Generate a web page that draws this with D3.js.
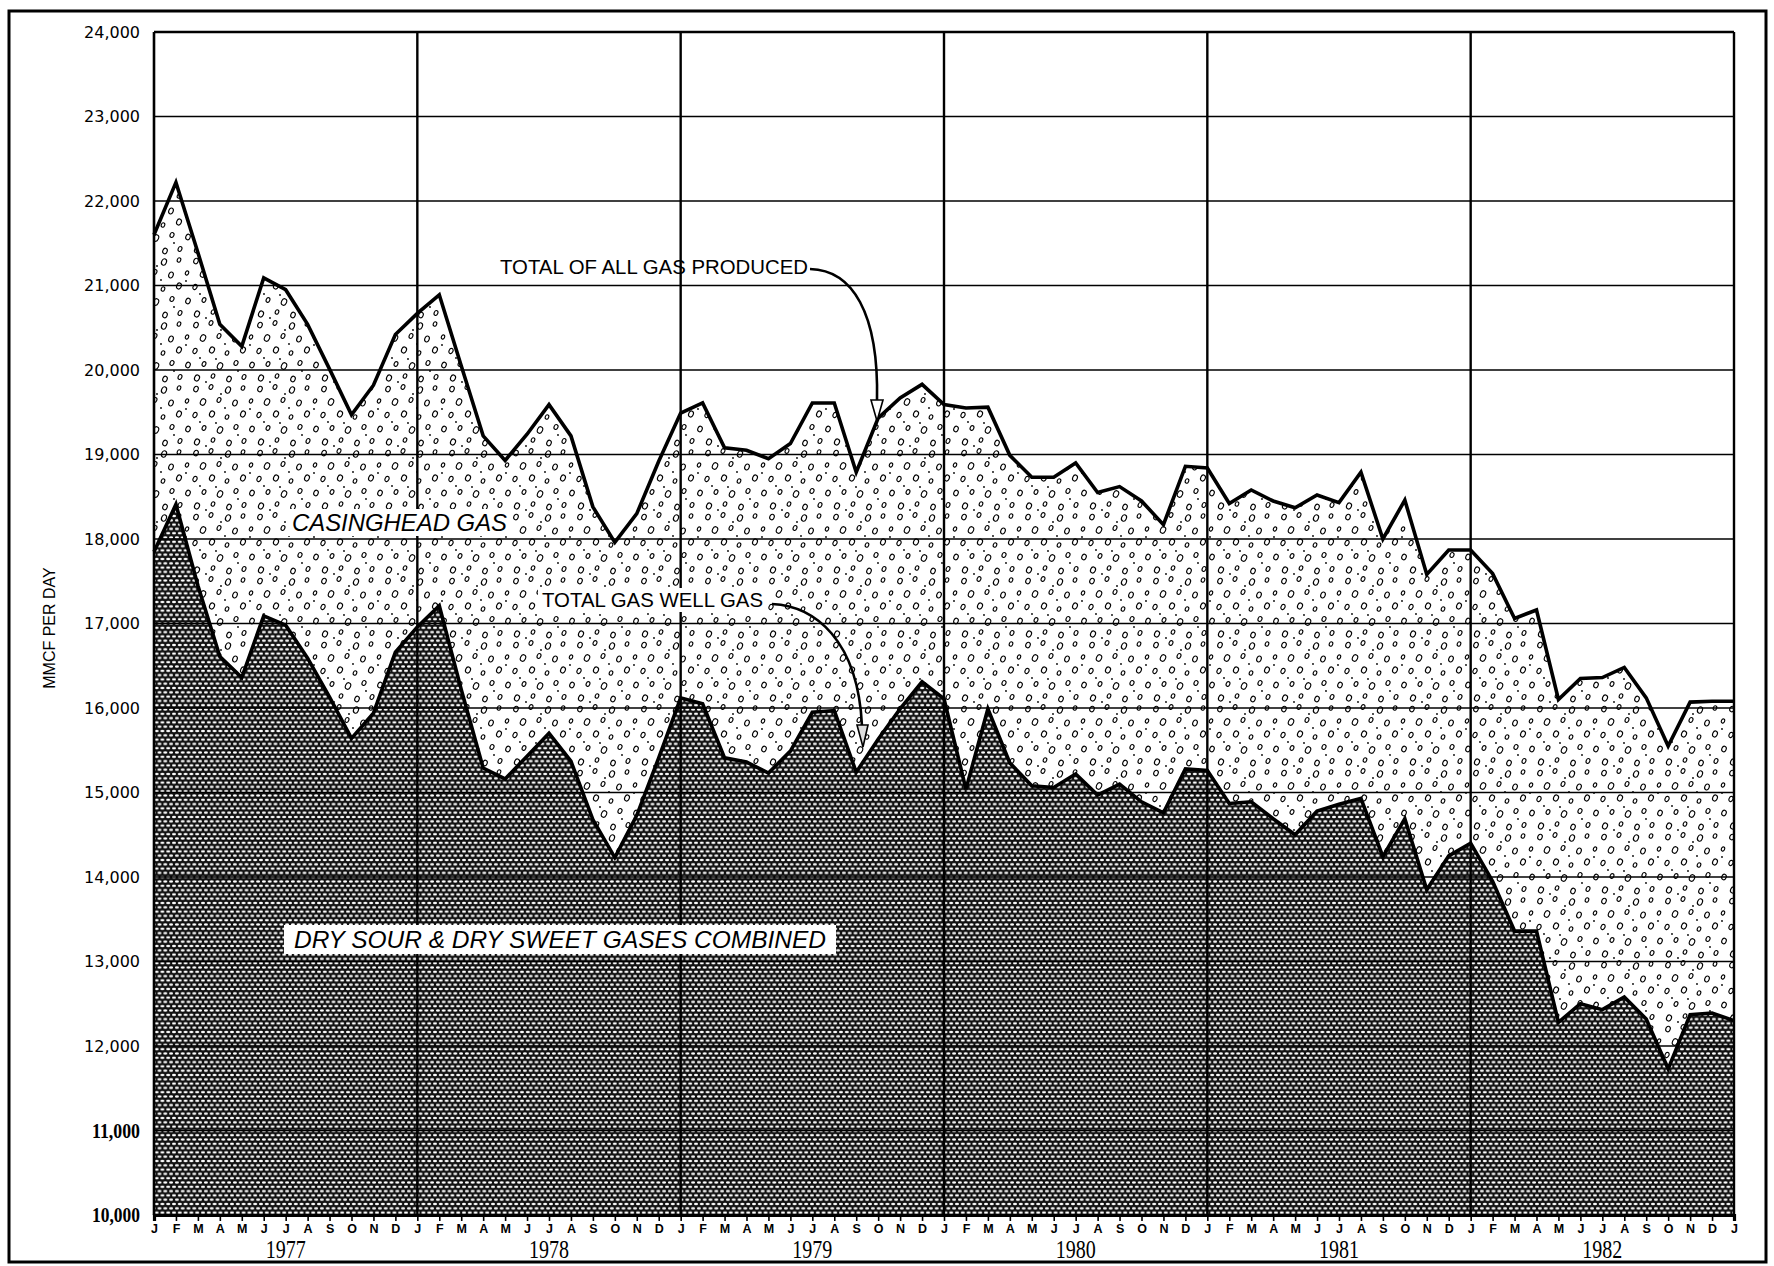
<!DOCTYPE html>
<html><head><meta charset="utf-8">
<script src="https://cdn.jsdelivr.net/npm/d3@7/dist/d3.min.js"></script>
<style>body{margin:0;background:#fff}svg{display:block}</style>
</head><body>
<script>
// ---- data (MMCF per day, monthly Jan 1977 .. Jan 1983) ----
const monthLabels = ["J","F","M","A","M","J","J","A","S","O","N","D"];
const years = [1977, 1978, 1979, 1980, 1981, 1982];
const yTickValues = [10000,11000,12000,13000,14000,15000,16000,17000,18000,19000,20000,21000,22000,23000,24000];

const totalGas = [
 21600, 22220, 21390, 20540, 20280, 21090, 20950, 20540, 20010, 19470, 19820, 20420,
 20670, 20890, 20050, 19220, 18930, 19240, 19590, 19220, 18380, 17960, 18300, 18920,
 19490, 19610, 19080, 19050, 18950, 19130, 19610, 19610, 18790, 19430, 19670, 19830,
 19590, 19550, 19560, 18990, 18730, 18730, 18900, 18550, 18620, 18450, 18170, 18860,
 18840, 18420, 18580, 18450, 18370, 18520, 18430, 18790, 18000, 18460, 17580, 17870,
 17870, 17590, 17060, 17160, 16100, 16350, 16360, 16480, 16120, 15550, 16070, 16080,
 16080];

const gasWellGas = [
 17850, 18410, 17450, 16610, 16360, 17090, 16980, 16590, 16130, 15640, 15940, 16660,
 16960, 17210, 16220, 15290, 15160, 15430, 15700, 15370, 14680, 14230, 14730, 15410,
 16120, 16050, 15410, 15360, 15230, 15490, 15950, 15970, 15240, 15630, 15990, 16310,
 16110, 15040, 15990, 15350, 15080, 15060, 15220, 14970, 15100, 14890, 14760, 15280,
 15260, 14870, 14890, 14690, 14500, 14780, 14860, 14930, 14240, 14690, 13850, 14250,
 14400, 13950, 13360, 13360, 12280, 12500, 12430, 12580, 12320, 11730, 12370, 12390,
 12300];

// ---- layout ----
const W = 1774, H = 1266;
const plot = {left: 154, right: 1734, top: 32, bottom: 1215};

const svg = d3.select("body").append("svg").attr("width", W).attr("height", H);

const x = d3.scaleLinear().domain([0, 72]).range([plot.left, plot.right]);
const y = d3.scaleLinear().domain([10000, 24000]).range([plot.bottom, plot.top]);

// ---- patterns ----
const defs = svg.append("defs");
const hw = 5.8, hh = 8.6;
const hatch = defs.append("pattern").attr("id", "hatch")
  .attr("patternUnits", "userSpaceOnUse").attr("width", hw).attr("height", hh);
hatch.append("rect").attr("width", hw).attr("height", hh).attr("fill", "#111");
[[0,0],[hw,0],[0,hh],[hw,hh],[hw/2,hh/2]].forEach(([cx,cy]) => {
  hatch.append("ellipse").attr("cx", cx).attr("cy", cy).attr("rx", 2.0).attr("ry", 1.15).attr("fill", "#fff");
});

const stip = defs.append("pattern").attr("id", "stipple")
  .attr("patternUnits", "userSpaceOnUse").attr("width", 64).attr("height", 64);
stip.append("rect").attr("width", 64).attr("height", 64).attr("fill", "#fff");
const ovals = [
 [4,5,1.8,2.4],[19,3,1.5,2.0],[36,6,2.0,2.7],[51,4,1.4,1.9],
 [11,18,2.1,2.8],[27,16,1.5,2.1],[43,19,1.8,2.5],[59,17,1.3,1.8],
 [3,31,1.6,2.2],[20,30,2.0,2.6],[35,33,1.4,1.9],[51,30,1.9,2.6],
 [12,44,1.5,2.0],[28,46,2.1,2.8],[44,43,1.6,2.1],[60,45,1.8,2.4],
 [5,58,2.0,2.6],[21,56,1.4,1.9],[37,59,1.8,2.4],[52,57,1.5,2.1]
];
ovals.forEach(([cx,cy,rx,ry]) => {
  stip.append("ellipse").attr("cx", cx).attr("cy", cy).attr("rx", rx * 1.2).attr("ry", ry * 1.2)
    .attr("transform", `rotate(25 ${cx} ${cy})`)
    .attr("fill", "none").attr("stroke", "#000").attr("stroke-width", 1.1);
});
[[29,10],[8,38],[46,51],[58,25],[14,62],[33,24],[24,39]].forEach(([cx,cy]) => {
  stip.append("circle").attr("cx", cx).attr("cy", cy).attr("r", 0.9).attr("fill", "#000");
});

// ---- outer frame ----
svg.append("rect").attr("x", 9).attr("y", 11).attr("width", 1757).attr("height", 1251)
  .attr("fill", "none").attr("stroke", "#000").attr("stroke-width", 3);

// ---- areas ----
const idx = d3.range(totalGas.length);
const areaWell = d3.area().x(i => x(i)).y0(y(10000)).y1(i => y(gasWellGas[i]));
const areaCasing = d3.area().x(i => x(i)).y0(i => y(gasWellGas[i])).y1(i => y(totalGas[i]));
svg.append("path").datum(idx).attr("d", areaCasing).attr("fill", "url(#stipple)");
svg.append("path").datum(idx).attr("d", areaWell).attr("fill", "url(#hatch)");

// ---- grid ----
const grid = svg.append("g");
grid.selectAll("line.h").data(yTickValues.slice(1, -1)).enter().append("line")
  .attr("x1", plot.left).attr("x2", plot.right)
  .attr("y1", d => y(d)).attr("y2", d => y(d))
  .attr("stroke", "#000").attr("stroke-width", 1.6);
grid.selectAll("line.v").data(years.slice(1).map((yr, k) => (k + 1) * 12)).enter().append("line")
  .attr("x1", d => x(d)).attr("x2", d => x(d))
  .attr("y1", plot.top).attr("y2", plot.bottom)
  .attr("stroke", "#000").attr("stroke-width", 2.4);
grid.append("line").attr("x1", plot.left).attr("x2", plot.right).attr("y1", y(24000)).attr("y2", y(24000))
  .attr("stroke", "#000").attr("stroke-width", 2.4);
grid.append("line").attr("x1", x(72)).attr("x2", x(72)).attr("y1", plot.top).attr("y2", plot.bottom)
  .attr("stroke", "#000").attr("stroke-width", 2.4);
grid.append("line").attr("x1", x(0)).attr("x2", x(0)).attr("y1", plot.top).attr("y2", plot.bottom)
  .attr("stroke", "#000").attr("stroke-width", 2.6);

// ---- series lines ----
const line = (arr) => d3.line().x(i => x(i)).y(i => y(arr[i]));
svg.append("path").datum(idx).attr("d", line(gasWellGas))
  .attr("fill", "none").attr("stroke", "#000").attr("stroke-width", 3.6).attr("stroke-linejoin", "miter");
svg.append("path").datum(idx).attr("d", line(totalGas))
  .attr("fill", "none").attr("stroke", "#000").attr("stroke-width", 3.6).attr("stroke-linejoin", "miter");

// ---- x axis ----
const xAxis = d3.axisBottom(x).tickValues(d3.range(73)).tickSize(6).tickPadding(3)
  .tickFormat(i => monthLabels[i % 12]);
const gx = svg.append("g").attr("transform", `translate(0,${plot.bottom})`).call(xAxis);
gx.select(".domain").attr("stroke", "#000").attr("stroke-width", 3.2);
gx.selectAll(".tick line").attr("stroke", "#000").attr("stroke-width", 1.6);
gx.selectAll(".tick text").attr("font-family", "Liberation Sans, Arial, sans-serif")
  .attr("font-weight", "bold").attr("font-size", 12.5).attr("fill", "#000");

svg.append("g").selectAll("text").data(years).enter().append("text")
  .attr("x", (d, k) => x(k * 12 + 6)).attr("y", 1258)
  .attr("text-anchor", "middle")
  .attr("font-family", "Liberation Serif, Times New Roman, serif")
  .attr("font-size", 26).attr("textLength", 40).attr("lengthAdjust", "spacingAndGlyphs")
  .text(d => d);

// ---- y axis labels ----
const yAxis = d3.axisLeft(y).tickValues(yTickValues).tickSize(0).tickPadding(14)
  .tickFormat(d3.format(","));
const gy = svg.append("g").attr("transform", `translate(${plot.left},0)`).call(yAxis);
gy.select(".domain").remove();
gy.selectAll(".tick text").each(function(d) {
  const t = d3.select(this).attr("fill", "#000");
  if (d <= 11000) {
    t.attr("font-family", "Liberation Serif, Times New Roman, serif").attr("font-weight", "bold")
     .attr("font-size", 21).attr("textLength", 48).attr("lengthAdjust", "spacingAndGlyphs");
  } else {
    t.attr("font-family", "DejaVu Sans, sans-serif").attr("font-size", 16);
  }
});

svg.append("text").attr("transform", "translate(49,628) rotate(-90)")
  .attr("text-anchor", "middle").attr("dy", "0.35em")
  .attr("font-family", "Liberation Sans, Arial, sans-serif").attr("font-size", 16)
  .text("MMCF PER DAY");

// ---- annotations ----
function boxedText(txt, xx, yy, size, italic, len, pad) {
  const g = svg.append("g");
  const r = g.append("rect").attr("fill", "#fff");
  const t = g.append("text").attr("x", xx).attr("y", yy)
    .attr("font-family", "Liberation Sans, Arial, sans-serif").attr("font-size", size)
    .attr("font-style", italic ? "italic" : "normal")
    .attr("textLength", len).attr("lengthAdjust", "spacingAndGlyphs").text(txt);
  if (pad) {
    const b = t.node().getBBox();
    r.attr("x", b.x - pad[0]).attr("y", b.y - pad[1]).attr("width", b.width + 2 * pad[0]).attr("height", b.height + 2 * pad[1]);
  } else r.remove();
}
boxedText("TOTAL OF ALL GAS PRODUCED", 500, 274, 20, false, 308, null);
boxedText("TOTAL GAS WELL GAS", 542, 607, 20, false, 221, [4, 1]);
boxedText("CASINGHEAD GAS", 292, 531, 24, true, 215, [4, 0]);
boxedText("DRY SOUR & DRY SWEET GASES COMBINED", 294, 948, 24, true, 532, [10, 1]);

// arrows
svg.append("path").attr("d", "M810,269 C852,270 879,312 877,401")
  .attr("fill", "none").attr("stroke", "#000").attr("stroke-width", 2.6);
svg.append("path").attr("d", "M871,400 L883,400 L877,421 Z")
  .attr("fill", "#fff").attr("stroke", "#000").attr("stroke-width", 1.6);
svg.append("path").attr("d", "M772,604 C815,606 858,640 862,726")
  .attr("fill", "none").attr("stroke", "#000").attr("stroke-width", 2.6);
svg.append("path").attr("d", "M857,725 L868,725 L863,747 Z")
  .attr("fill", "#ddd").attr("stroke", "#000").attr("stroke-width", 1.6);
</script>
</body></html>
